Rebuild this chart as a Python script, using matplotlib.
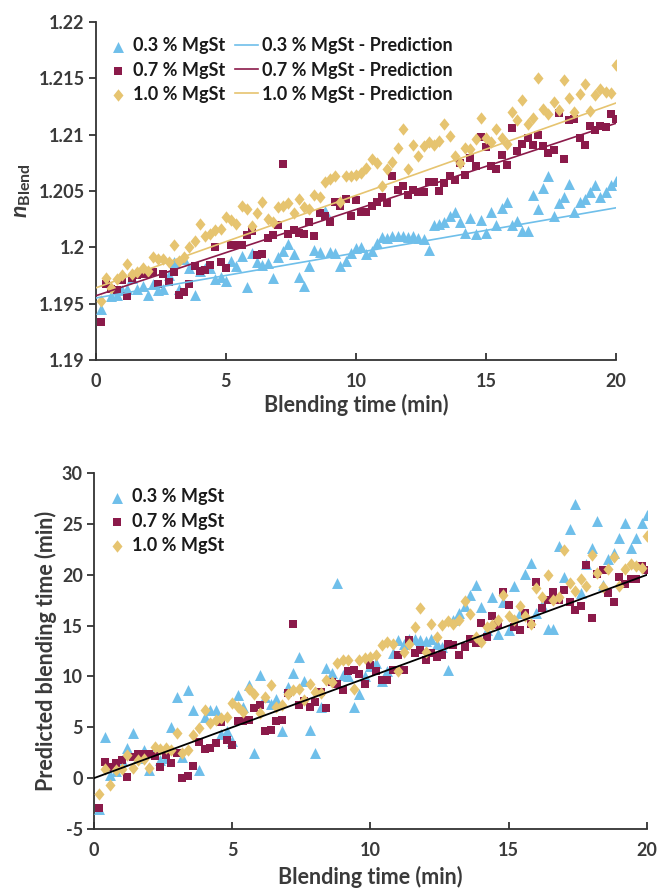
import matplotlib
matplotlib.use("Agg")
import matplotlib.pyplot as plt
from matplotlib.ticker import FuncFormatter, MultipleLocator
from matplotlib.markers import MarkerStyle
from matplotlib.transforms import Affine2D

plt.rcParams['font.family'] = ['Lato', 'DejaVu Sans']
plt.rcParams['axes.unicode_minus'] = False
plt.rcParams['mathtext.fontset'] = 'custom'
plt.rcParams['mathtext.rm'] = 'Lato'
plt.rcParams['mathtext.bf'] = 'Lato:bold'
plt.rcParams['mathtext.it'] = 'Lato:italic:bold'
try:
    plt.rcParams['mathtext.bfit'] = 'Lato:bold:italic'
except Exception:
    pass

# ---------------- data ----------------
times = [0.2, 0.4, 0.6, 0.8, 1.0, 1.2, 1.4, 1.6, 1.8, 2.0,
         2.2, 2.4, 2.6, 2.8, 3.0, 3.2, 3.4, 3.6, 3.8, 4.0,
         4.2, 4.4, 4.6, 4.8, 5.0, 5.2, 5.4, 5.6, 5.8, 6.0,
         6.2, 6.4, 6.6, 6.8, 7.0, 7.2, 7.4, 7.6, 7.8, 8.0,
         8.2, 8.4, 8.6, 8.8, 9.0, 9.2, 9.4, 9.6, 9.8, 10.0,
         10.2, 10.4, 10.6, 10.8, 11.0, 11.2, 11.4, 11.6, 11.8, 12.0,
         12.2, 12.4, 12.6, 12.8, 13.0, 13.2, 13.4, 13.6, 13.8, 14.0,
         14.2, 14.4, 14.6, 14.8, 15.0, 15.2, 15.4, 15.6, 15.8, 16.0,
         16.2, 16.4, 16.6, 16.8, 17.0, 17.2, 17.4, 17.6, 17.8, 18.0,
         18.2, 18.4, 18.6, 18.8, 19.0, 19.2, 19.4, 19.6, 19.8, 20.0]

n_03 = [1.1945, 1.1970, 1.1957, 1.1958, 1.1962, 1.1963, 1.1973, 1.1963, 1.1966, 1.1958,
        1.1967, 1.1962, 1.1963, 1.1975, 1.1987, 1.1963, 1.1990, 1.1982, 1.1958, 1.1979,
        1.1982, 1.1982, 1.1972, 1.1974, 1.1970, 1.1988, 1.1983, 1.1992, 1.1965, 1.1995,
        1.1987, 1.1984, 1.1986, 1.1973, 1.1991, 1.1997, 1.2003, 1.1994, 1.1974, 1.1966,
        1.1983, 1.1998, 1.1996, 1.2032, 1.1996, 1.1995, 1.1983, 1.1988, 1.1995, 1.1999,
        1.2000, 1.1994, 1.1997, 1.2004, 1.2009, 1.2008, 1.2010, 1.2010, 1.2010, 1.2009,
        1.2010, 1.2008, 1.2007, 1.1998, 1.2020, 1.2021, 1.2022, 1.2028, 1.2031, 1.2022,
        1.2013, 1.2026, 1.2012, 1.2024, 1.2013, 1.2031, 1.2020, 1.2035, 1.2040, 1.2020,
        1.2023, 1.2014, 1.2014, 1.2046, 1.2034, 1.2053, 1.2063, 1.2028, 1.2039, 1.2045,
        1.2056, 1.2031, 1.2040, 1.2043, 1.2049, 1.2055, 1.2045, 1.2049, 1.2055, 1.2059]

n_07 = [1.1934, 1.1967, 1.1963, 1.1962, 1.1971, 1.1957, 1.1973, 1.1975, 1.1976, 1.1976,
        1.1978, 1.1967, 1.1976, 1.1969, 1.1978, 1.1958, 1.1960, 1.1967, 1.1983, 1.1979,
        1.1980, 1.1984, 1.2000, 1.1987, 1.1982, 1.2002, 1.2002, 1.2002, 1.2011, 1.2014,
        1.1993, 1.1994, 1.2008, 1.2011, 1.2020, 1.2074, 1.2012, 1.2015, 1.2013, 1.2012,
        1.2022, 1.2010, 1.2030, 1.2028, 1.2022, 1.2040, 1.2037, 1.2043, 1.2028, 1.2042,
        1.2031, 1.2031, 1.2037, 1.2040, 1.2045, 1.2039, 1.2063, 1.2051, 1.2054, 1.2046,
        1.2051, 1.2049, 1.2049, 1.2058, 1.2058, 1.2050, 1.2057, 1.2063, 1.2060, 1.2075,
        1.2064, 1.2079, 1.2072, 1.2098, 1.2089, 1.2072, 1.2069, 1.2082, 1.2073, 1.2106,
        1.2085, 1.2092, 1.2097, 1.2091, 1.2100, 1.2090, 1.2084, 1.2086, 1.2119, 1.2078,
        1.2113, 1.2114, 1.2097, 1.2091, 1.2108, 1.2104, 1.2108, 1.2107, 1.2118, 1.2114]

n_10 = [1.1952, 1.1973, 1.1964, 1.1972, 1.1975, 1.1985, 1.1976, 1.1978, 1.1982, 1.1979,
        1.1991, 1.1990, 1.1990, 1.1987, 1.2002, 1.1988, 1.1991, 1.2000, 1.2006, 1.2021,
        1.2010, 1.2012, 1.2015, 1.2016, 1.2027, 1.2024, 1.2021, 1.2037, 1.2034, 1.2019,
        1.2030, 1.2040, 1.2025, 1.2022, 1.2036, 1.2037, 1.2039, 1.2030, 1.2043, 1.2036,
        1.2034, 1.2046, 1.2045, 1.2058, 1.2061, 1.2063, 1.2040, 1.2063, 1.2063, 1.2064,
        1.2066, 1.2070, 1.2078, 1.2075, 1.2054, 1.2069, 1.2076, 1.2088, 1.2105, 1.2069,
        1.2091, 1.2081, 1.2090, 1.2093, 1.2091, 1.2094, 1.2109, 1.2099, 1.2081, 1.2075,
        1.2088, 1.2087, 1.2096, 1.2115, 1.2097, 1.2093, 1.2105, 1.2097, 1.2092, 1.2120,
        1.2113, 1.2131, 1.2109, 1.2115, 1.2150, 1.2123, 1.2118, 1.2129, 1.2122, 1.2148,
        1.2132, 1.2120, 1.2136, 1.2145, 1.2121, 1.2135, 1.2140, 1.2138, 1.2137, 1.2162]

pred_line_t = [0, 20]
pred_line_03 = [1.1955, 1.2035]
pred_line_07 = [1.1957, 1.2110]
pred_line_10 = [1.1964, 1.2128]

pt_03 = [-3.0, 4.0, 0.3, 0.7, 1.8, 3.0, 4.4, 2.0, 2.8, 0.8,
         2.9, 1.8, 2.0, 5.0, 8.0, 2.1, 8.7, 6.7, 0.8, 6.0,
         6.7, 6.7, 4.3, 4.6, 3.7, 8.2, 7.0, 9.2, 2.5, 10.1,
         8.0, 7.3, 7.8, 4.6, 9.0, 10.3, 11.9, 9.6, 4.7, 2.5,
         7.0, 10.8, 10.3, 19.2, 10.1, 10.0, 7.0, 8.3, 10.0, 11.0,
         11.3, 9.6, 10.5, 12.3, 13.6, 13.2, 13.7, 13.7, 13.6, 13.5,
         13.7, 13.2, 12.9, 10.6, 15.6, 16.2, 16.9, 18.0, 19.0, 16.8,
         14.6, 17.8, 14.2, 17.3, 14.6, 18.9, 16.2, 20.1, 21.2, 16.2,
         17.0, 14.7, 14.7, 22.8, 19.8, 24.5, 27.0, 18.2, 21.1, 22.6,
         25.3, 19.0, 21.5, 22.1, 23.6, 25.1, 22.6, 23.6, 25.1, 25.9]

pt_07 = [-2.9, 1.6, 1.1, 1.5, 1.8, 0.1, 2.1, 2.4, 2.4, 2.4,
         2.2, 1.1, 2.3, 1.5, 2.5, 0.0, 0.2, 1.2, 3.6, 2.9,
         3.0, 3.5, 5.5, 3.8, 3.3, 5.6, 5.6, 5.7, 6.9, 7.2,
         4.6, 4.7, 5.6, 5.7, 8.4, 15.2, 7.2, 7.6, 7.0, 7.5,
         8.5, 6.9, 9.5, 9.3, 8.7, 10.5, 10.6, 10.2, 9.3, 11.1,
         10.5, 9.7, 9.7, 10.6, 12.1, 10.6, 13.6, 12.3, 12.6, 11.6,
         12.3, 11.9, 12.1, 13.2, 13.1, 12.1, 12.9, 13.7, 13.3, 15.3,
         13.9, 15.9, 15.1, 18.3, 17.0, 14.9, 14.6, 16.2, 15.2, 19.3,
         16.7, 17.5, 18.3, 17.5, 18.5, 17.3, 16.5, 16.9, 21.0, 15.7,
         20.1, 20.5, 18.2, 17.3, 19.8, 19.1, 19.6, 19.6, 20.9, 20.5]

pt_10 = [-1.6, 0.95, -0.7, 0.8, 0.95, 2.3, 1.0, 1.8, 1.9, 1.0,
         3.1, 2.9, 3.0, 2.8, 4.4, 2.5, 2.8, 4.2, 4.9, 6.7,
         5.4, 5.7, 5.9, 6.0, 7.4, 7.0, 6.5, 8.8, 8.3, 6.4,
         8.0, 9.2, 7.0, 7.2, 8.3, 8.7, 8.8, 7.7, 9.3, 8.5,
         8.4, 9.7, 9.5, 11.3, 11.6, 11.6, 8.8, 11.6, 11.8, 11.9,
         12.1, 13.1, 13.4, 13.2, 10.5, 12.4, 13.2, 14.9, 16.7, 12.4,
         15.2, 13.9, 15.1, 15.5, 15.2, 15.6, 17.4, 16.1, 13.9, 13.4,
         14.9, 15.1, 15.6, 18.0, 15.9, 15.6, 16.9, 15.9, 15.2, 18.7,
         17.8, 20.0, 17.5, 17.8, 22.4, 19.2, 18.4, 19.6, 18.9, 21.9,
         20.2, 18.8, 20.6, 21.7, 18.9, 20.6, 21.1, 20.9, 20.7, 23.8]

ideal_t = [0, 20]
ideal_v = [0, 20]

labels = ['0.3 % MgSt', '0.7 % MgSt', '1.0 % MgSt']

# ---------------- styles ----------------
c_blue = '#6FBFEA'
c_maroon = '#8B1A4A'
c_gold = '#E6C470'
c_axis = '#333333'
c_text = '#3A3A3A'
tick_fs = 13
lab_fs = 15.5
leg_fs = 13

diamond = MarkerStyle('D', transform=Affine2D().scale(0.85, 1.05))

fig = plt.figure(figsize=(6.61, 8.90), dpi=100)
ax1 = fig.add_axes([0.145, 0.5955, 0.787, 0.380])
ax2 = fig.add_axes([0.142, 0.0685, 0.837, 0.400])


def style_axes(ax):
    for s in ['top', 'right']:
        ax.spines[s].set_visible(False)
    for s in ['left', 'bottom']:
        ax.spines[s].set_color(c_axis)
        ax.spines[s].set_linewidth(1.3)
    ax.tick_params(axis='x', direction='in', length=5, width=1.3, color=c_axis,
                   labelsize=tick_fs, labelcolor=c_text, pad=9)
    ax.tick_params(axis='y', direction='out', length=5, width=1.3, color=c_axis,
                   labelsize=tick_fs, labelcolor=c_text, pad=3)
    for lbl in ax.get_xticklabels() + ax.get_yticklabels():
        lbl.set_fontweight('bold')


ms_tri, ms_sq, ms_dia = 62, 32, 36

# top chart
h1 = ax1.scatter(times, n_03, marker='^', s=ms_tri, color=c_blue, linewidths=0, zorder=3)
h2 = ax1.scatter(times, n_07, marker='s', s=ms_sq, color=c_maroon, linewidths=0, zorder=3)
h3 = ax1.scatter(times, n_10, marker=diamond, s=ms_dia, color=c_gold, linewidths=0, zorder=3)
l1, = ax1.plot(pred_line_t, pred_line_03, color=c_blue, lw=1.2, zorder=4)
l2, = ax1.plot(pred_line_t, pred_line_07, color=c_maroon, lw=1.2, zorder=4)
l3, = ax1.plot(pred_line_t, pred_line_10, color=c_gold, lw=1.2, zorder=4)
ax1.set_xlim(0, 20)
ax1.set_ylim(1.19, 1.22)
ax1.xaxis.set_major_locator(MultipleLocator(5))
ax1.yaxis.set_major_locator(MultipleLocator(0.005))
ax1.yaxis.set_major_formatter(FuncFormatter(lambda v, p: ('%.3f' % v).rstrip('0').rstrip('.')))
style_axes(ax1)
ax1.set_xlabel('Blending time (min)', fontsize=lab_fs, fontweight='bold', color=c_text)
ax1.xaxis.set_label_coords(0.5, -0.10)
ax1.set_ylabel(r'$\mathbfit{n}_{\mathbf{Blend}}$', fontsize=lab_fs + 1, color=c_text)
ax1.yaxis.set_label_coords(-0.121, 0.5)
leg1 = ax1.legend([h1, h2, h3, l1, l2, l3],
                  labels + [l + ' - Prediction' for l in labels],
                  ncol=2, loc='upper left', bbox_to_anchor=(0.02, 0.954),
                  frameon=False, fontsize=leg_fs, handlelength=1.3,
                  handletextpad=0.2, columnspacing=0.5, labelspacing=0.4,
                  borderpad=0, borderaxespad=0, scatterpoints=1)
for t in leg1.get_texts():
    t.set_fontweight('bold')
    t.set_color('#1A1A1A')

# bottom chart
g1 = ax2.scatter(times, pt_03, marker='^', s=ms_tri, color=c_blue, linewidths=0, zorder=3)
g2 = ax2.scatter(times, pt_07, marker='s', s=ms_sq, color=c_maroon, linewidths=0, zorder=3)
g3 = ax2.scatter(times, pt_10, marker=diamond, s=ms_dia, color=c_gold, linewidths=0, zorder=3)
ax2.plot(ideal_t, ideal_v, color='black', lw=1.3, zorder=4)
ax2.set_xlim(0, 20)
ax2.set_ylim(-5, 30)
ax2.xaxis.set_major_locator(MultipleLocator(5))
ax2.yaxis.set_major_locator(MultipleLocator(5))
style_axes(ax2)
ax2.set_xlabel('Blending time (min)', fontsize=lab_fs, fontweight='bold', color=c_text)
ax2.xaxis.set_label_coords(0.5, -0.103)
ax2.set_ylabel('Predicted blending time (min)', fontsize=lab_fs, fontweight='bold', color=c_text)
ax2.yaxis.set_label_coords(-0.066, 0.5)
leg2 = ax2.legend([g1, g2, g3], labels, loc='upper left', bbox_to_anchor=(0.02, 0.957),
                  frameon=False, fontsize=leg_fs, handlelength=1.3,
                  handletextpad=0.2, labelspacing=0.4, borderpad=0,
                  borderaxespad=0, scatterpoints=1)
for t in leg2.get_texts():
    t.set_fontweight('bold')
    t.set_color('#1A1A1A')

fig.savefig('out.png', dpi=100)
